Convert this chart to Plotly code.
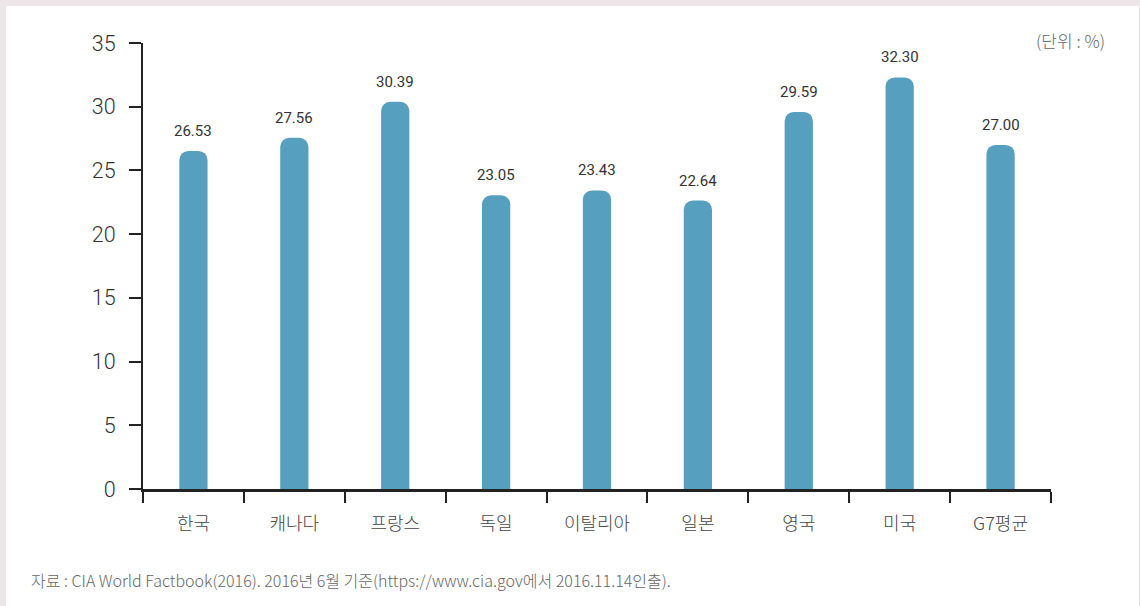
import plotly.graph_objects as go

categories = ["한국", "캐나다", "프랑스", "독일", "이탈리아", "일본", "영국", "미국", "G7평균"]
values = [26.53, 27.56, 30.39, 23.05, 23.43, 22.64, 29.59, 32.30, 27.00]
value_labels = ["26.53", "27.56", "30.39", "23.05", "23.43", "22.64", "29.59", "32.30", "27.00"]
y_ticks = [0, 5, 10, 15, 20, 25, 30, 35]

W, H = 1140, 606
L, R, T, B = 143, 89, 43, 117
pw, ph = W - L - R, H - T - B

def px_x(p):
    return (p - L) / pw

def px_y(p):
    return (H - B - p) / ph

fig = go.Figure()
fig.add_trace(go.Bar(
    x=categories, y=values,
    marker=dict(color="#579fbf", cornerradius=9, line=dict(width=0)),
    width=0.28,
    cliponaxis=False,
    hoverinfo="skip",
))

annotations = [
    dict(x=c, y=v, text=t, xref="x", yref="y", showarrow=False,
         xanchor="center", yanchor="bottom", yshift=9,
         font=dict(family="Roboto, 'Noto Sans CJK KR'", size=15, color="#333333"))
    for c, v, t in zip(categories, values, value_labels)
]
annotations += [
    dict(text="(단위 : %)", xref="paper", yref="paper", x=px_x(1107), y=px_y(41),
         xanchor="right", yanchor="middle", showarrow=False,
         font=dict(family="'Noto Sans CJK KR'", size=17, color="#666666", weight=300)),
    dict(text="자료 : CIA World Factbook(2016). 2016년 6월 기준(https://www.cia.gov에서 2016.11.14인출).",
         xref="paper", yref="paper", x=px_x(29), y=px_y(580),
         xanchor="left", yanchor="middle", showarrow=False,
         font=dict(family="'Noto Sans CJK KR'", size=16, color="#666666", weight=300)),
]

fig.update_layout(
    width=W, height=H,
    margin=dict(l=L, r=R, t=T, b=B, pad=0),
    paper_bgcolor="#ece6e8",
    plot_bgcolor="rgba(0,0,0,0)",
    showlegend=False,
    shapes=[dict(type="rect", xref="paper", yref="paper",
                 x0=px_x(6), x1=px_x(1139), y0=px_y(606), y1=px_y(6),
                 fillcolor="white", line=dict(width=0), layer="below")],
    annotations=annotations,
)

fig.update_yaxes(
    range=[0, 35], tickvals=y_ticks, ticktext=[str(v) for v in y_ticks],
    showgrid=False, zeroline=False,
    showline=True, linecolor="#222222", linewidth=2,
    ticks="outside", ticklen=12, tickwidth=1.5, tickcolor="#222222",
    ticklabelstandoff=9,
    tickfont=dict(family="Roboto, 'Noto Sans CJK KR'", size=21.5, color="#333333", weight=300),
    fixedrange=True,
)
fig.update_xaxes(
    showgrid=False, zeroline=False,
    showline=True, linecolor="#222222", linewidth=2.5,
    ticks="outside", tickson="boundaries", ticklen=11, tickwidth=1.5, tickcolor="#222222",
    ticklabelstandoff=17,
    tickfont=dict(family="'Noto Sans CJK KR'", size=18, color="#444444", weight=300),
    fixedrange=True,
)

fig.write_html("out.html", config={"displayModeBar": False},
               post_script="document.body.style.margin='0';document.body.style.overflow='hidden';")
